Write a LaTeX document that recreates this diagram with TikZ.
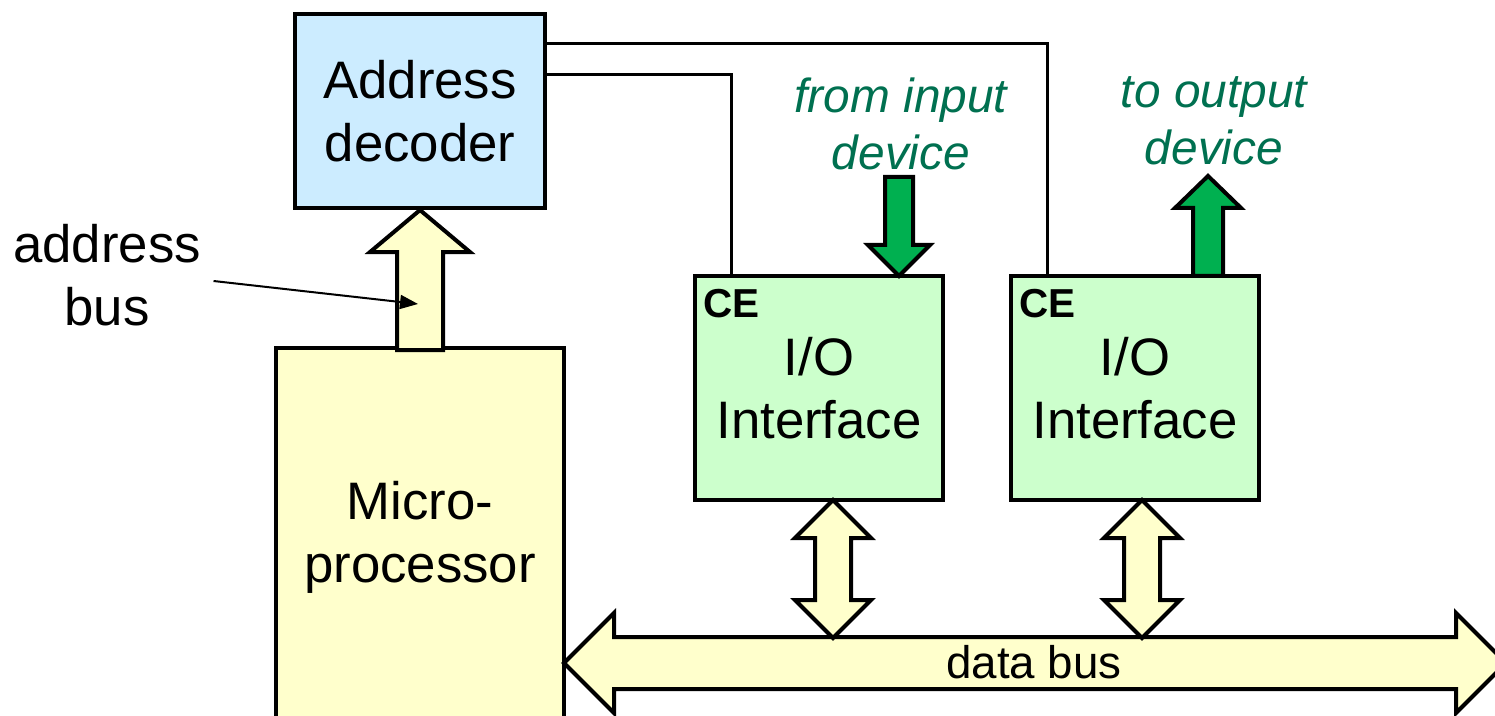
\documentclass[tikz,border=0pt]{standalone}
\usepackage{fontspec}
\setmainfont{Liberation Sans}
\usetikzlibrary{arrows.meta, positioning}

\definecolor{decblue}{RGB}{204,236,255}
\definecolor{iogreen}{RGB}{204,255,204}
\definecolor{busyellow}{RGB}{255,255,204}
\definecolor{sigfill}{RGB}{0,176,80}
\definecolor{sigtext}{RGB}{0,112,80}

\begin{document}
\begin{tikzpicture}[
    x=0.01cm, y=-0.01cm,
    box/.style={draw, line width=0.04cm, minimum width=2.48cm, minimum height=2.24cm, align=center, inner sep=0pt, font=\fontsize{15}{17.9}\selectfont},
    bus/.style={draw, line width=0.04cm, fill=busyellow, line join=miter},
    sig/.style={draw, line width=0.04cm, fill=sigfill, line join=miter},
    wire/.style={line width=0.03cm},
    ce/.style={font=\bfseries\fontsize{11.5}{13}\selectfont, inner sep=0pt},
    note/.style={align=center, text=sigtext, font=\itshape\fontsize{13.6}{16.2}\selectfont},
    pointer/.style={-{Triangle[length=0.18cm, width=0.14cm]}, line width=0.02cm}
]
\clip (0,0) rectangle (1495,716);

\node[box, fill=decblue, minimum width=2.49cm, minimum height=1.94cm] (dec) at (420,111) {Address\\decoder};
\node[box, fill=busyellow, minimum width=2.88cm, minimum height=3.78cm] (mp) at (420,537) {Micro-\\processor};
\node[box, fill=iogreen] (io1) at (819,388) {I/O\\Interface};
\node[box, fill=iogreen] (io2) at (1135,388) {I/O\\Interface};
\node[ce, anchor=base west] (ce1) at ([xshift=0.1cm, yshift=-0.44cm]io1.north west) {CE};
\node[ce, anchor=base west] (ce2) at ([xshift=0.1cm, yshift=-0.44cm]io2.north west) {CE};

% chip enable lines
\draw[wire] ([yshift=0.67cm]dec.east) -| (io2.north -| ce2);
\draw[wire] ([yshift=0.36cm]dec.east) -| (io1.north -| ce1);

% address bus
\draw[bus] (dec.south) -- ++(50,42) -- ++(-27,0) -- ++(0,98) -- ++(-46,0) -- ++(0,-98) -- ++(-27,0) -- cycle;

% data bus
\draw[bus] (564,663) -- ++(50,-50) -- ++(0,24) -- ++(842,0) -- ++(0,-24) -- ++(50,50) -- ++(-50,50) -- ++(0,-24) -- ++(-842,0) -- ++(0,24) -- cycle;
\node[font=\fontsize{13}{15}\selectfont] (dbus) at (1034,662) {data bus};

% two-way links to the data bus
\draw[bus] (833,500) -- ++(38,38) -- ++(-20,0) -- ++(0,62) -- ++(20,0) -- ++(-38,38) -- ++(-38,-38) -- ++(20,0) -- ++(0,-62) -- ++(-20,0) -- cycle;
\draw[bus] (1142,500) -- ++(38,38) -- ++(-20,0) -- ++(0,62) -- ++(20,0) -- ++(-38,38) -- ++(-38,-38) -- ++(20,0) -- ++(0,-62) -- ++(-20,0) -- cycle;

% device signals
\draw[sig] (899,276) -- ++(31,-31) -- ++(-17,0) -- ++(0,-68) -- ++(-28,0) -- ++(0,68) -- ++(-17,0) -- cycle;
\draw[sig] (1193,276) -- ++(0,-68) -- ++(-18,0) -- ++(33,-32) -- ++(33,32) -- ++(-18,0) -- ++(0,68) -- cycle;
\node[note] (src) at (901,124) {from input\\device};
\node[note] (dst) at (1214,121) {to output\\device};

% label for the address bus
\node[align=center, inner sep=0.12cm, font=\fontsize{15}{17.9}\selectfont] (lbl) at (107,275) {address\\bus};
\coordinate (abus) at (418,304);
\draw[pointer] ([yshift=-0.06cm]lbl.east) -- (abus);
\end{tikzpicture}
\end{document}
